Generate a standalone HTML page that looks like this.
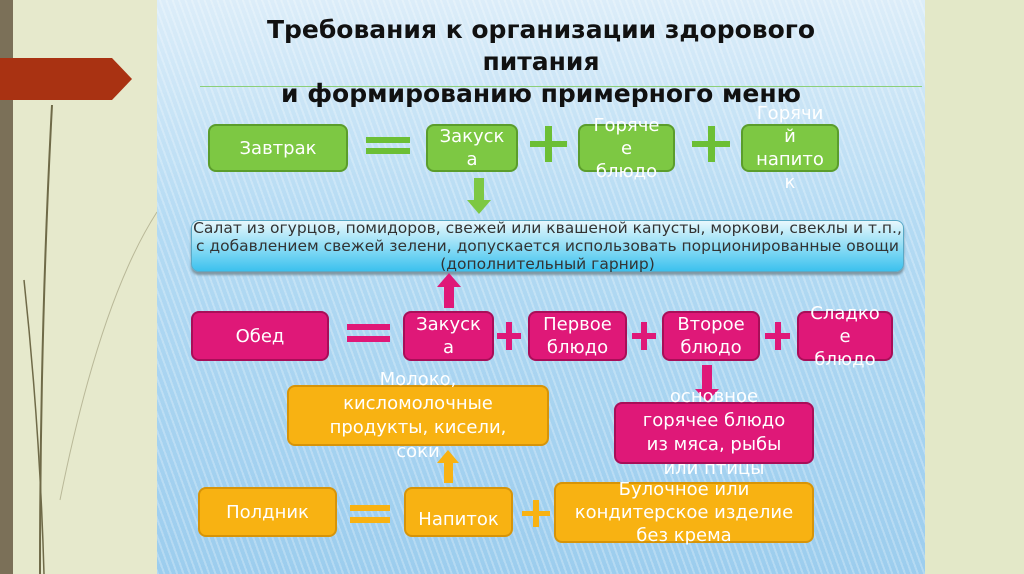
<!DOCTYPE html>
<html><head><meta charset="utf-8"><style>
body{margin:0;width:1024px;height:574px;position:relative;overflow:hidden;background:#e6e9cc;font-family:"Liberation Sans","DejaVu Sans",sans-serif}
.a{position:absolute}
.slide{left:157px;top:0;width:768px;height:574px;background-image:repeating-linear-gradient(70deg,rgba(255,255,255,.25) 0 2px,rgba(255,255,255,0) 2px 6px),linear-gradient(180deg,#dcedf9 0%,#b3daf3 40%,#9ccdee 100%)}
.b{position:absolute;display:flex;align-items:center;justify-content:center;text-align:center;color:#fff;border-radius:8px;box-sizing:border-box;font-size:18px;line-height:23px;font-family:"DejaVu Sans",sans-serif;white-space:nowrap}
.g{background:#7dc843;border:2px solid #5b9d2c}
.p{background:#df1878;border:2px solid #a80e58}
.o{background:#f8b212;border:2px solid #d79408}
.t{font-weight:bold;font-size:25px;color:#111;text-align:center;width:768px;left:157px;line-height:32px;font-family:"DejaVu Sans",sans-serif}
.eq{position:absolute;height:6px}
</style></head><body>
<div class="a" style="left:0;top:0;width:13px;height:574px;background:#7b7058"></div>
<div class="a" style="left:0;top:58px;width:112px;height:42px;background:#a93212"></div>
<div class="a" style="left:112px;top:58px;width:0;height:0;border-top:21px solid transparent;border-bottom:21px solid transparent;border-left:20px solid #a93212"></div>
<svg class="a" style="left:0;top:0" width="157" height="574"><path d="M52 105 Q40 330 40 574" stroke="#6f6a48" stroke-width="2" fill="none"/><path d="M24 280 Q40 430 44 574" stroke="#6f6a48" stroke-width="1.5" fill="none"/><path d="M157 212 Q100 300 60 500" stroke="#b9b898" stroke-width="1" fill="none"/></svg>
<div class="a slide"></div>
<div class="a" style="left:925px;top:0;width:99px;height:574px;background:#e3e8c8"></div>
<div class="a" style="left:200px;top:86px;width:722px;height:1px;background:#8ccf7a"></div>
<div class="a t" style="top:14px">Требования к организации здорового</div>
<div class="a t" style="top:46px">питания</div>
<div class="a t" style="top:78px">и формированию примерного меню</div>

<div class="b g" style="left:208px;top:124px;width:140px;height:48px">Завтрак</div>
<div class="eq" style="left:366px;top:137px;width:44px;background:#6cbf35"></div><div class="eq" style="left:366px;top:148px;width:44px;background:#6cbf35"></div>
<div class="b g" style="left:426px;top:124px;width:92px;height:48px">Закуск<br>а</div>
<div class="a" style="left:530px;top:141px;width:37px;height:6px;background:#6cbf35"></div><div class="a" style="left:545px;top:126px;width:7px;height:36px;background:#6cbf35"></div>
<div class="b g" style="left:578px;top:124px;width:97px;height:48px">Горяче<br>е<br>блюдо</div>
<div class="a" style="left:692px;top:141px;width:38px;height:6px;background:#6cbf35"></div><div class="a" style="left:708px;top:126px;width:7px;height:36px;background:#6cbf35"></div>
<div class="b g" style="left:741px;top:124px;width:98px;height:48px">Горячи<br>й<br>напито<br>к</div>
<div class="a" style="left:474px;top:178px;width:10px;height:24px;background:#7dc843"></div>
<div class="a" style="left:467px;top:200px;border-left:12px solid transparent;border-right:12px solid transparent;border-top:14px solid #7dc843"></div>

<div class="b" style="left:191px;top:220px;width:713px;height:52px;background:linear-gradient(#e8f8fd,#7fd8f4 60%,#3cc1ee);border:1px solid #5aa9c6;color:#333;font-size:15.5px;line-height:18px;box-shadow:0 3px 2px #7f97a3">Салат из огурцов, помидоров, свежей или квашеной капусты, моркови, свеклы и т.п.,<br>с добавлением свежей зелени, допускается использовать порционированные овощи<br>(дополнительный гарнир)</div>

<div class="a" style="left:444px;top:286px;width:10px;height:22px;background:#df1878"></div>
<div class="a" style="left:437px;top:273px;border-left:12px solid transparent;border-right:12px solid transparent;border-bottom:14px solid #df1878"></div>

<div class="b p" style="left:191px;top:311px;width:138px;height:50px">Обед</div>
<div class="eq" style="left:347px;top:324px;width:43px;background:#df1878"></div><div class="eq" style="left:347px;top:336px;width:43px;background:#df1878"></div>
<div class="b p" style="left:403px;top:311px;width:91px;height:50px">Закуск<br>а</div>
<div class="a" style="left:497px;top:333px;width:24px;height:6px;background:#df1878"></div><div class="a" style="left:506px;top:322px;width:6px;height:28px;background:#df1878"></div>
<div class="b p" style="left:528px;top:311px;width:99px;height:50px">Первое<br>блюдо</div>
<div class="a" style="left:632px;top:333px;width:24px;height:6px;background:#df1878"></div><div class="a" style="left:641px;top:322px;width:6px;height:28px;background:#df1878"></div>
<div class="b p" style="left:662px;top:311px;width:98px;height:50px">Второе<br>блюдо</div>
<div class="a" style="left:765px;top:333px;width:25px;height:6px;background:#df1878"></div><div class="a" style="left:775px;top:322px;width:6px;height:28px;background:#df1878"></div>
<div class="b p" style="left:797px;top:311px;width:96px;height:50px">Сладко<br>е<br>блюдо</div>

<div class="a" style="left:702px;top:365px;width:10px;height:26px;background:#df1878"></div>
<div class="a" style="left:695px;top:389px;border-left:12px solid transparent;border-right:12px solid transparent;border-top:13px solid #df1878"></div>
<div class="b p" style="left:614px;top:402px;width:200px;height:62px;line-height:24px">основное<br>горячее блюдо<br>из мяса, рыбы<br>или птицы</div>

<div class="b o" style="left:287px;top:385px;width:262px;height:61px;line-height:24px">Молоко,<br>кисломолочные<br>продукты, кисели,<br>соки</div>
<div class="a" style="left:444px;top:462px;width:9px;height:21px;background:#f8b212"></div>
<div class="a" style="left:437px;top:450px;border-left:11px solid transparent;border-right:11px solid transparent;border-bottom:13px solid #f8b212"></div>

<div class="b o" style="left:198px;top:487px;width:139px;height:50px">Полдник</div>
<div class="eq" style="left:350px;top:505px;width:40px;background:#f8b212"></div><div class="eq" style="left:350px;top:517px;width:40px;background:#f8b212"></div>
<div class="b o" style="left:404px;top:487px;width:109px;height:50px;padding-top:14px">Напиток</div>
<div class="a" style="left:522px;top:511px;width:28px;height:5px;background:#f8b212"></div><div class="a" style="left:533px;top:500px;width:6px;height:27px;background:#f8b212"></div>
<div class="b o" style="left:554px;top:482px;width:260px;height:61px;line-height:23px">Булочное или<br>кондитерское изделие<br>без крема</div>
</body></html>
